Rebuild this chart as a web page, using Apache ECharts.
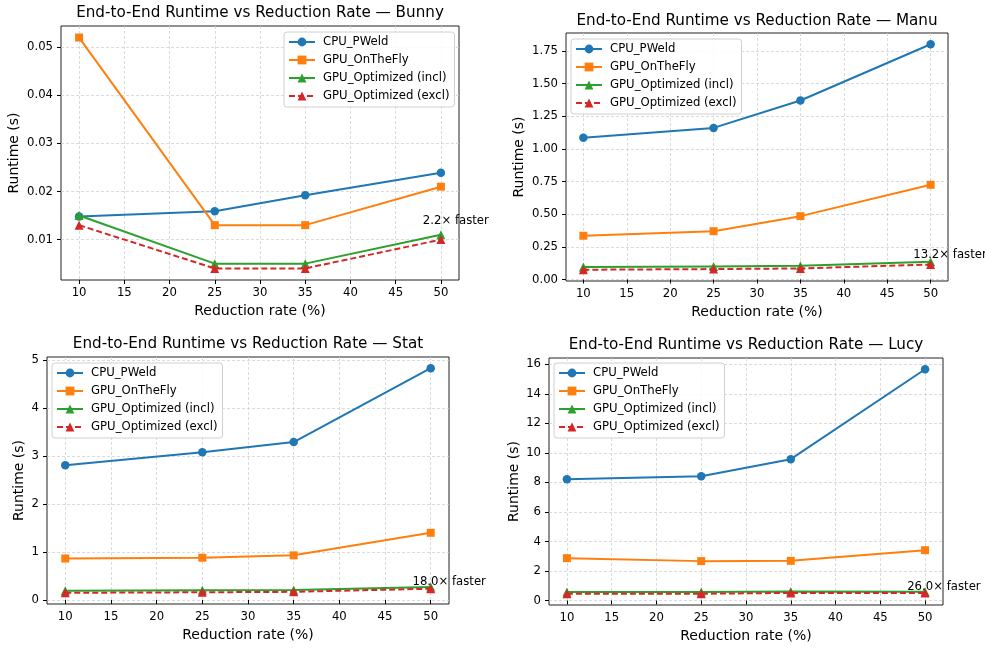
<!DOCTYPE html>
<html><head><meta charset="utf-8">
<script src="https://cdn.jsdelivr.net/npm/echarts@6/dist/echarts.min.js"></script>
<style>html,body{margin:0;padding:0;background:#fff}#c{width:985px;height:648px}</style>
</head><body><div id="c"></div>
<script>
// ---------- data ----------
const reductionRates = [10, 25, 35, 50];
const xTicks = [10, 15, 20, 25, 30, 35, 40, 45, 50];
const modelNames = ['Bunny', 'Manu', 'Stat', 'Lucy'];
const seriesNames = ['CPU_PWeld', 'GPU_OnTheFly', 'GPU_Optimized (incl)', 'GPU_Optimized (excl)'];

const bunnyCPU = [0.0148, 0.0159, 0.0192, 0.0239];
const bunnyOnTheFly = [0.052, 0.013, 0.013, 0.021];
const bunnyIncl = [0.015, 0.005, 0.005, 0.011];
const bunnyExcl = [0.013, 0.004, 0.004, 0.010];

const manuCPU = [1.085, 1.16, 1.37, 1.80];
const manuOnTheFly = [0.335, 0.37, 0.485, 0.725];
const manuIncl = [0.095, 0.10, 0.105, 0.136];
const manuExcl = [0.075, 0.08, 0.085, 0.115];

const statCPU = [2.81, 3.08, 3.29, 4.83];
const statOnTheFly = [0.865, 0.88, 0.93, 1.40];
const statIncl = [0.19, 0.20, 0.21, 0.268];
const statExcl = [0.15, 0.16, 0.17, 0.235];

const lucyCPU = [8.21, 8.42, 9.57, 15.66];
const lucyOnTheFly = [2.87, 2.67, 2.69, 3.41];
const lucyIncl = [0.58, 0.58, 0.62, 0.602];
const lucyExcl = [0.46, 0.46, 0.52, 0.52];

const speedups = [2.2, 13.2, 18.0, 26.0];

const bunnyYTicks = [0.01, 0.02, 0.03, 0.04, 0.05];
const manuYTicks = [0, 0.25, 0.5, 0.75, 1.0, 1.25, 1.5, 1.75];
const statYTicks = [0, 1, 2, 3, 4, 5];
const lucyYTicks = [0, 2, 4, 6, 8, 10, 12, 14, 16];

// ---------- layout / style ----------
const FONT = 'DejaVu Sans';
const colors = ['#1f77b4', '#ff7f0e', '#2ca02c', '#d62728'];
const symbols = ['circle', 'rect', 'triangle', 'triangle'];
const symbolSizes = [8.5, 8, 9, 9];

const panels = [
  { data: [bunnyCPU, bunnyOnTheFly, bunnyIncl, bunnyExcl], yTicks: bunnyYTicks, dec: 2,
    grid: { left: 61, top: 26, width: 398, height: 254 }, titleTop: 5, yGap: 40, legend: { left: 284, top: 32 } },
  { data: [manuCPU, manuOnTheFly, manuIncl, manuExcl], yTicks: manuYTicks, dec: 2,
    grid: { left: 566, top: 33, width: 382, height: 248 }, titleTop: 13, yGap: 40, legend: { left: 571, top: 39 } },
  { data: [statCPU, statOnTheFly, statIncl, statExcl], yTicks: statYTicks, dec: 0,
    grid: { left: 47, top: 357, width: 402, height: 247 }, titleTop: 336, yGap: 21, legend: { left: 52, top: 363 } },
  { data: [lucyCPU, lucyOnTheFly, lucyIncl, lucyExcl], yTicks: lucyYTicks, dec: 0,
    grid: { left: 549, top: 358, width: 394, height: 247 }, titleTop: 337, yGap: 28, legend: { left: 554, top: 363 } }
];

const xLo = reductionRates[0], xHi = reductionRates[reductionRates.length - 1];
const xPad = 0.05 * (xHi - xLo);

const option = {
  animation: false,
  textStyle: { fontFamily: FONT },
  title: [], grid: [], xAxis: [], yAxis: [], legend: [], series: []
};

panels.forEach((p, i) => {
  const all = [].concat(...p.data);
  const lo = Math.min(...all), hi = Math.max(...all);
  const pad = 0.05 * (hi - lo);
  option.title.push({
    text: 'End-to-End Runtime vs Reduction Rate — ' + modelNames[i],
    left: p.grid.left + p.grid.width / 2, top: p.titleTop + 1, textAlign: 'center', padding: 0,
    textStyle: { fontFamily: FONT, fontSize: 15.2, fontWeight: 'normal', color: '#000' }
  });
  option.grid.push(Object.assign({ show: true, borderColor: '#222', borderWidth: 1, containLabel: false }, p.grid));
  option.xAxis.push({
    type: 'value', gridIndex: i, min: xLo - xPad, max: xHi + xPad,
    name: 'Reduction rate (%)', nameLocation: 'middle', nameGap: 24,
    nameTextStyle: { fontFamily: FONT, fontSize: 14, color: '#000' },
    axisLine: { show: false },
    axisTick: { show: true, customValues: xTicks, length: 4, lineStyle: { color: '#000', width: 1 } },
    axisLabel: { customValues: xTicks, margin: 7, fontSize: 11.7, color: '#000', fontFamily: FONT },
    splitLine: { show: true, lineStyle: { color: '#d2d2d2', width: 0.8, type: [3, 2] } }
  });
  option.yAxis.push({
    type: 'value', gridIndex: i, min: lo - pad, max: hi + pad,
    name: 'Runtime (s)', nameLocation: 'middle', nameGap: p.yGap,
    nameTextStyle: { fontFamily: FONT, fontSize: 14, color: '#000' },
    axisLine: { show: false },
    axisTick: { show: true, customValues: p.yTicks, length: 4, lineStyle: { color: '#000', width: 1 } },
    axisLabel: { customValues: p.yTicks, margin: 8, fontSize: 11.7, color: '#000', fontFamily: FONT,
      formatter: v => Number(v).toFixed(p.dec) },
    splitLine: { show: true, lineStyle: { color: '#d2d2d2', width: 0.8, type: [3, 2] } }
  });
  option.legend.push({
    data: seriesNames, orient: 'vertical', left: p.legend.left, top: p.legend.top,
    itemWidth: 26, itemHeight: 11, itemGap: 4,
    backgroundColor: 'rgba(255,255,255,0.85)', borderColor: '#d0d0d0', borderWidth: 1, borderRadius: 3,
    padding: [3, 5, 4, 4],
    textStyle: { fontFamily: FONT, fontSize: 11.7, color: '#000', lineHeight: 14, padding: [0, 0, 0, 3] }
  });
  p.data.forEach((vals, k) => {
    const s = {
      name: seriesNames[k], type: 'line', xAxisIndex: i, yAxisIndex: i,
      data: reductionRates.map((x, j) => [x, vals[j]]),
      symbol: symbols[k], symbolSize: symbolSizes[k], showSymbol: true,
      itemStyle: { color: colors[k] },
      lineStyle: { color: colors[k], width: 2, type: k === 3 ? [6, 3] : 'solid' },
      z: 2 + k
    };
    if (k === 2) {
      const last = reductionRates.length - 1;
      s.markPoint = {
        symbol: 'circle', symbolSize: 0, silent: true, z: 20,
        data: [{ coord: [reductionRates[last] - 2, vals[last] * 1.2] }],
        label: { show: true, position: [0, 0], align: 'left', verticalAlign: 'bottom', offset: [0, 3],
          formatter: speedups[i].toFixed(1) + '× faster', fontFamily: FONT, fontSize: 11.7, color: '#000' }
      };
    }
    option.series.push(s);
  });
});

const chart = echarts.init(document.getElementById('c'), null, { renderer: 'canvas' });
chart.setOption(option);
</script>
</body></html>
